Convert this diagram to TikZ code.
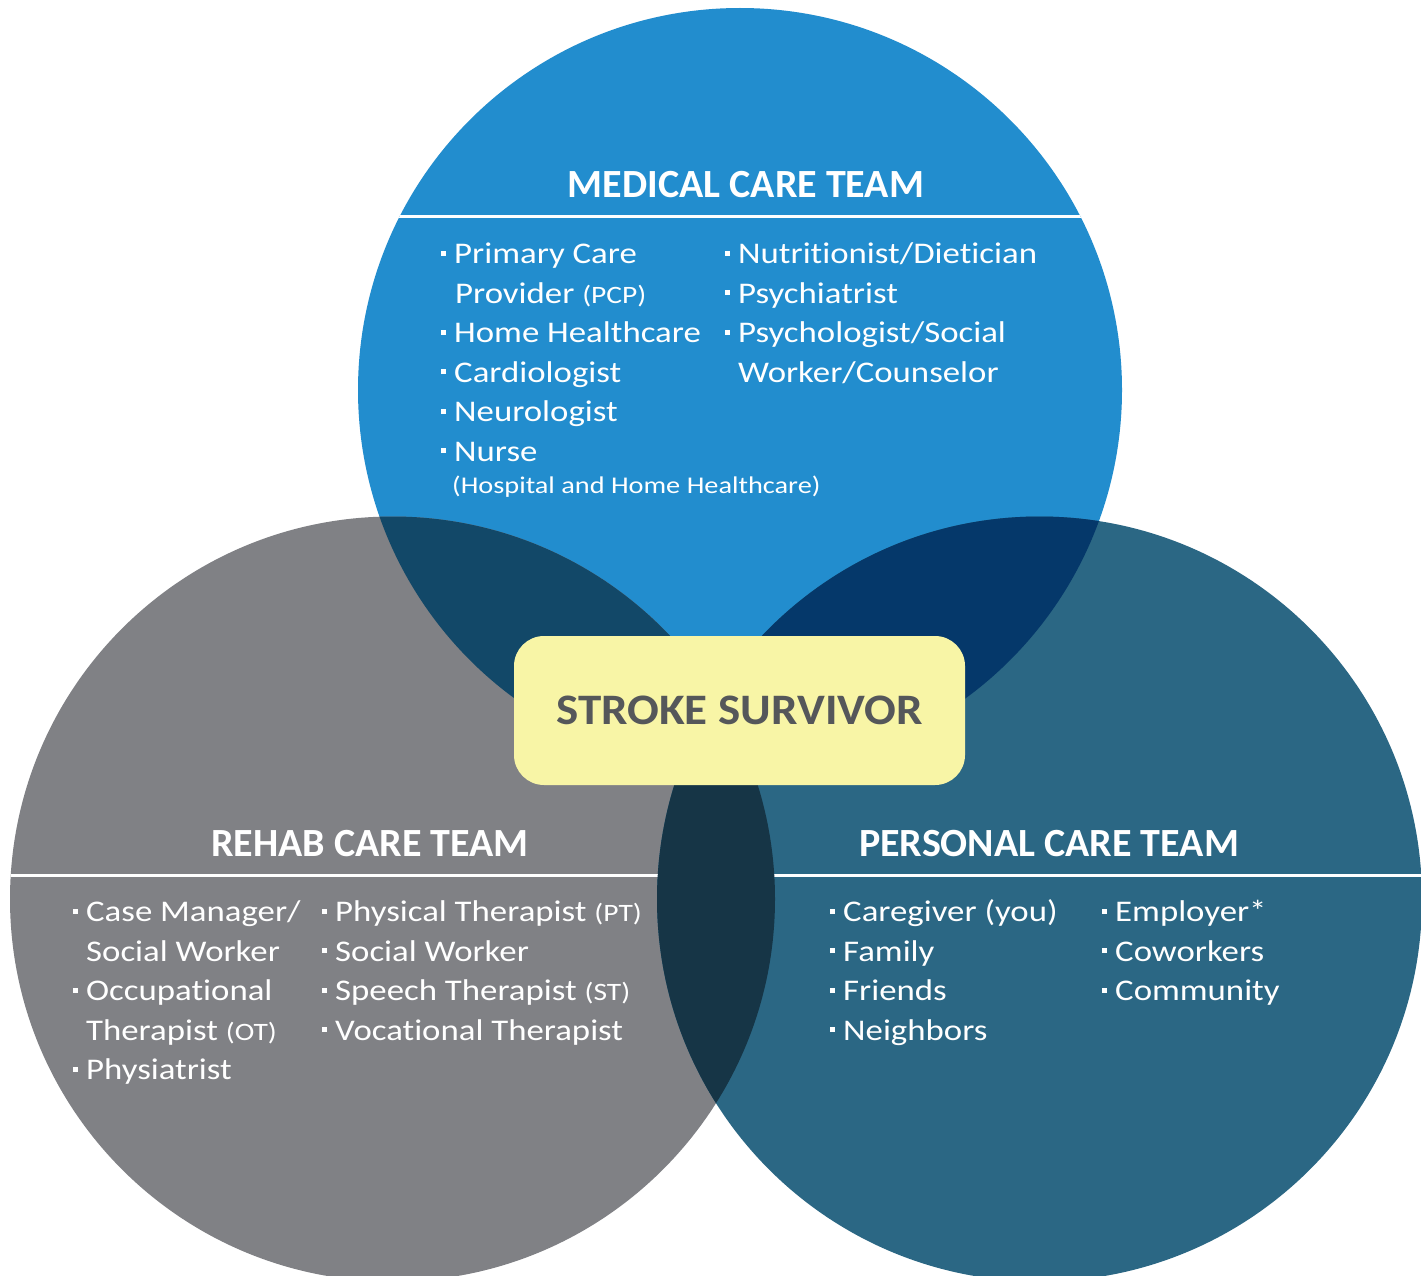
\documentclass[tikz,border=0pt]{standalone}
\usepackage{fontspec}
\setmainfont{Carlito}[Ligatures=NoCommon]
\newfontfamily\bodyfont{Carlito}[FakeStretch=1.16,Ligatures=NoCommon]
\newfontfamily\smallfont{Carlito}[FakeStretch=1.18,Ligatures=NoCommon]
\newfontfamily\survfont{Carlito}[FakeStretch=1.08,Ligatures=NoCommon]
\definecolor{medblue}{RGB}{34,141,206}
\definecolor{rehabgrey}{RGB}{128,129,133}
\definecolor{perteal}{RGB}{43,103,132}
\definecolor{mrover}{RGB}{18,72,104}
\definecolor{mpover}{RGB}{5,56,106}
\definecolor{rpover}{RGB}{22,53,70}
\definecolor{allover}{RGB}{10,40,60}
\definecolor{survyellow}{RGB}{248,245,166}
\definecolor{survtext}{RGB}{85,87,90}
\newcommand\bul{\makebox[13pt][l]{\raisebox{8pt}{\rule{5pt}{5pt}}}}
\newcommand\sm[1]{{\smallfont\fontsize{25}{28}\selectfont #1}}
\tikzset{
  heading/.style={font=\fontsize{40}{48}\selectfont\bfseries, text=white, inner sep=0pt, anchor=base},
  item/.style={font=\bodyfont\fontsize{30}{36}\selectfont, text=white, inner sep=0pt, anchor=base west},
  divider/.style={draw=white, line width=3pt},
  survbox/.style={fill=survyellow, rounded corners=30pt, minimum width=451pt, minimum height=149pt,
    inner sep=0pt, text=survtext, font=\survfont\fontsize{43.5}{50}\selectfont\bfseries}
}
\begin{document}
\begin{tikzpicture}[x=1pt,y=-1pt]
\clip (0,0) rectangle (1421,1276);
\fill[white] (0,0) rectangle (1421,1276);
\coordinate (cM) at (740,390);
\coordinate (cR) at (392.5,899);
\coordinate (cP) at (1039.5,899);
% circles
\fill[medblue] (cM) circle[radius=382pt];
\fill[rehabgrey] (cR) circle[radius=382.5pt];
\fill[perteal] (cP) circle[radius=382.5pt];
% dividers
\begin{scope}
  \clip (cM) circle[radius=382pt];
  \draw[divider] (0,217) -- (1421,217);
\end{scope}
\begin{scope}
  \clip (cR) circle[radius=382.5pt];
  \draw[divider] (0,875) -- (1421,875);
\end{scope}
\begin{scope}
  \clip (cP) circle[radius=382.5pt];
  \draw[divider] (0,875) -- (1421,875);
\end{scope}
% overlaps
\begin{scope}
  \clip (cM) circle[radius=382pt];
  \fill[mrover] (cR) circle[radius=382.5pt];
  \fill[mpover] (cP) circle[radius=382.5pt];
\end{scope}
\begin{scope}
  \clip (cR) circle[radius=382.5pt];
  \fill[rpover] (cP) circle[radius=382.5pt];
  \clip (cP) circle[radius=382.5pt];
  \fill[allover] (cM) circle[radius=382pt];
\end{scope}
% centre
\node[survbox] (survivor) at (739.5,710.5) {STROKE SURVIVOR};
% headings
\node[heading] (mtitle) at (746,198) {MEDICAL CARE TEAM};
\node[heading] (rtitle) at (370,856) {REHAB CARE TEAM};
\node[heading] (ptitle) at (1049,856) {PERSONAL CARE TEAM};
% medical items
\node[item] (m1) at (441,263.5) {\bul Primary Care};
\node[item] (m2) at (455,303) {Provider \sm{(PCP)}};
\node[item] (m3) at (441,342.5) {\bul Home Healthcare};
\node[item] (m4) at (441,382) {\bul Cardiologist};
\node[item] (m5) at (441,421.5) {\bul Neurologist};
\node[item] (m6) at (441,461) {\bul Nurse};
\node[item] (m7) at (452,493.5) {\smallfont\fontsize{24}{28}\selectfont(Hospital and Home Healthcare)};
\node[item] (m8) at (725,263.5) {\bul Nutritionist/Dietician};
\node[item] (m9) at (725,303) {\bul Psychiatrist};
\node[item] (m10) at (725,342.5) {\bul Psychologist/Social};
\node[item] (m11) at (738,382) {Worker/Counselor};
% rehab items
\node[item] (r1) at (73,921.5) {\bul Case Manager/};
\node[item] (r2) at (86,961) {Social Worker};
\node[item] (r3) at (73,1000.5) {\bul Occupational};
\node[item] (r4) at (86,1040) {Therapist \sm{(OT)}};
\node[item] (r5) at (73,1079.5) {\bul Physiatrist};
\node[item] (r6) at (322,921.5) {\bul Physical Therapist \sm{(PT)}};
\node[item] (r7) at (322,961) {\bul Social Worker};
\node[item] (r8) at (322,1000.5) {\bul Speech Therapist \sm{(ST)}};
\node[item] (r9) at (322,1040) {\bul Vocational Therapist};
% personal items
\node[item] (p1) at (830,921.5) {\bul Caregiver (you)};
\node[item] (p2) at (830,961) {\bul Family};
\node[item] (p3) at (830,1000.5) {\bul Friends};
\node[item] (p4) at (830,1040) {\bul Neighbors};
\node[item] (p5) at (1102,921.5) {\bul Employer*};
\node[item] (p6) at (1102,961) {\bul Coworkers};
\node[item] (p7) at (1102,1000.5) {\bul Community};
\end{tikzpicture}
\end{document}
